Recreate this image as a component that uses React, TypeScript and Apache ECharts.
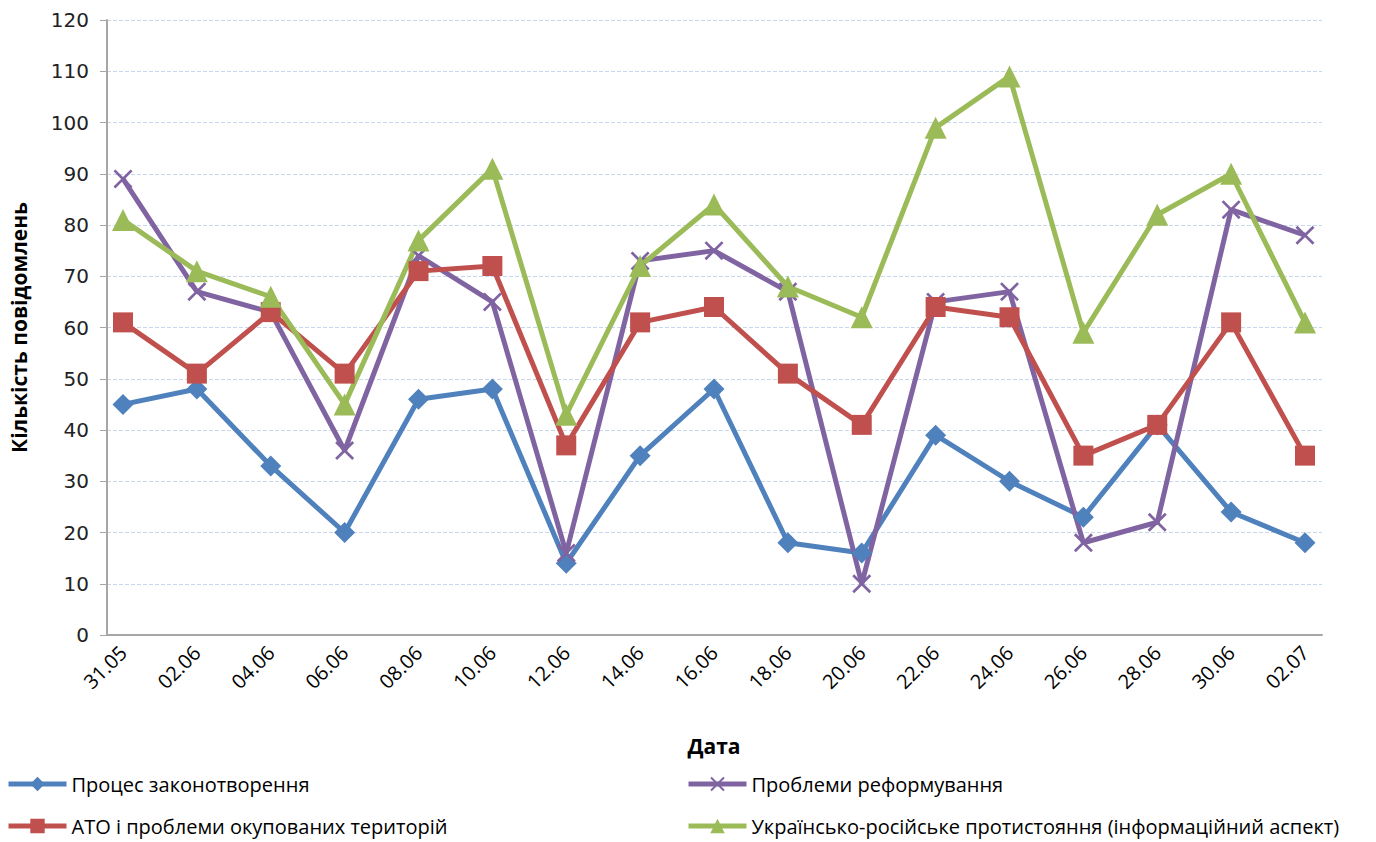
import React, { useEffect, useRef } from "react";
import * as echarts from "echarts";

const categories = ["31.05", "02.06", "04.06", "06.06", "08.06", "10.06", "12.06", "14.06", "16.06", "18.06", "20.06", "22.06", "24.06", "26.06", "28.06", "30.06", "02.07"];
const lawmaking = [45, 48, 33, 20, 46, 48, 14, 35, 48, 18, 16, 39, 30, 23, 41, 24, 18];
const reform = [89, 67, 63, 36, 74, 65, 16, 73, 75, 67, 10, 65, 67, 18, 22, 83, 78];
const ato = [61, 51, 63, 51, 71, 72, 37, 61, 64, 51, 41, 64, 62, 35, 41, 61, 35];
const uaRu = [81, 71, 66, 45, 77, 91, 43, 72, 84, 68, 62, 99, 109, 59, 82, 90, 61];
const seriesNames = [
  "Процес законотворення",
  "Проблеми реформування",
  "АТО і проблеми окупованих територій",
  "Українсько-російське протистояння (інформаційний аспект)",
];

const LABEL_FONT = "'Open Sans', sans-serif";
const CROSS = "path://M0,1 L1,0 L5,4 L9,0 L10,1 L6,5 L10,9 L9,10 L5,6 L1,10 L0,9 L4,5 Z";

export default function App() {
  const ref = useRef<HTMLDivElement>(null);
  useEffect(() => {
    document.body.style.margin = "0";
    if (!ref.current) return;
    const chart = echarts.init(ref.current, null, { renderer: "svg" });
    const mk = (name: string, data: number[], color: string, symbol: string, size: number) => ({
      name,
      type: "line",
      xAxisIndex: 1,
      yAxisIndex: 1,
      data,
      symbol,
      symbolSize: size,
      lineStyle: { color, width: 5 },
      itemStyle: { color, borderColor: color, borderWidth: 0 },
    });
    const legendCommon = {
      orient: "vertical",
      top: 774,
      height: 68,
      padding: 0,
      itemWidth: 58,
      itemHeight: 18,
      itemGap: 22,
      lineStyle: { width: 5 },
      textStyle: { fontFamily: LABEL_FONT, fontSize: 20, color: "#000" },
    };
    chart.setOption({
      animation: false,
      backgroundColor: "#ffffff",
      grid: [
        { left: 100, right: 54, top: 20, bottom: 207 },
        { left: 123, right: 71, top: 20, bottom: 207 },
      ],
      legend: [
        { ...legendCommon, data: [seriesNames[0], seriesNames[2]], left: 6 },
        { ...legendCommon, data: [seriesNames[1], seriesNames[3]], left: 686 },
      ],
      xAxis: [
        {
          gridIndex: 0,
          type: "value",
          min: 0,
          max: 1,
          axisLabel: { show: false },
          axisTick: { show: false },
          splitLine: { show: false },
          axisLine: { show: true, lineStyle: { color: "#a6a6a6", width: 2 } },
        },
        {
          gridIndex: 1,
          type: "category",
          data: categories,
          boundaryGap: false,
          axisLine: { show: false },
          axisTick: { show: false },
          axisLabel: {
            rotate: 45,
            margin: 14,
            fontFamily: LABEL_FONT,
            fontSize: 20,
            color: "#000",
            interval: 0,
          },
          name: "Дата",
          nameLocation: "middle",
          nameGap: 100,
          nameTextStyle: { fontFamily: LABEL_FONT, fontSize: 21, fontWeight: "bold", color: "#000" },
        },
      ],
      yAxis: [
        {
          gridIndex: 0,
          type: "value",
          min: 0,
          max: 120,
          interval: 10,
          axisLine: { show: true, lineStyle: { color: "#a6a6a6", width: 2 } },
          axisTick: { show: true, length: 7, lineStyle: { color: "#a6a6a6", width: 1 } },
          axisLabel: { fontFamily: "'DejaVu Sans', sans-serif", fontSize: 20, color: "#222", margin: 18 },
          splitLine: { show: true, lineStyle: { color: "#c6d7ee", type: "dashed", width: 1 } },
          name: "Кількість повідомлень",
          nameLocation: "middle",
          nameGap: 78,
          nameTextStyle: { fontFamily: LABEL_FONT, fontSize: 21, fontWeight: "bold", color: "#000" },
        },
        {
          gridIndex: 1,
          type: "value",
          min: 0,
          max: 120,
          interval: 10,
          show: false,
          splitLine: { show: false },
        },
      ],
      series: [
        mk(seriesNames[0], lawmaking, "#4f81bd", "diamond", 21),
        mk(seriesNames[1], reform, "#8064a2", CROSS, 19),
        mk(seriesNames[2], ato, "#c0504d", "rect", 20),
        mk(seriesNames[3], uaRu, "#9bbb59", "triangle", 22),
      ],
    });
    return () => chart.dispose();
  }, []);
  return <div ref={ref} style={{ width: 1376, height: 842 }} />;
}
